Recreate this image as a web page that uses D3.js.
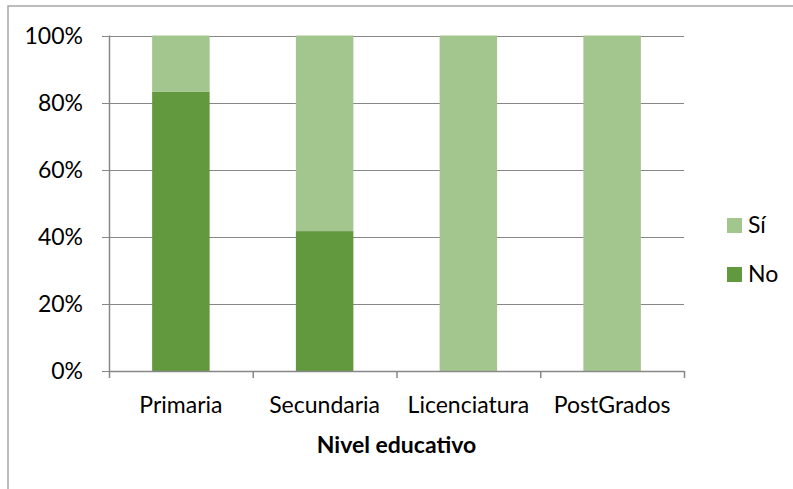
<!DOCTYPE html>
<html>
<head>
<meta charset="utf-8">
<script src="https://cdn.jsdelivr.net/npm/d3@7"></script>
<style>
  body { margin: 0; background: #fff; }
  text { font-family: Lato, "Noto Sans", sans-serif; fill: #000; }
</style>
</head>
<body>
<svg id="chart" width="793" height="489"></svg>
<script>
// values (percent of each group)
var categories = ["Primaria", "Secundaria", "Licenciatura", "PostGrados"];
var noValues = [83.3, 41.7, 0, 0];
var siValues = [16.7, 58.3, 100, 100];
var yTicks = [0, 20, 40, 60, 80, 100];
var seriesNames = ["No", "Sí"];
var seriesColors = {"No": "#62993e", "Sí": "#a3c68f"};

var svg = d3.select("#chart");

// outer chart border
svg.append("rect")
    .attr("x", 8).attr("y", 6)
    .attr("width", 800).attr("height", 500)
    .style("fill", "none")
    .style("stroke", "#a6a6a6")
    .style("stroke-width", 1.5);

var plotLeft = 109, plotRight = 684, plotTop = 35.5, plotBottom = 371;

var x = d3.scaleBand().domain(categories).range([plotLeft, plotRight]).paddingInner(0.6).paddingOuter(0.3);
var xBand = d3.scaleBand().domain(categories).range([plotLeft, plotRight]);
var y = d3.scaleLinear().domain([0, 100]).range([plotBottom, plotTop]);

var rows = categories.map(function (c, i) {
    return {cat: c, "No": noValues[i], "Sí": siValues[i]};
});
var stacked = d3.stack().keys(seriesNames)(rows);

// gridlines with outward ticks
svg.append("g").selectAll("line")
    .data(yTicks)
    .enter().append("line")
    .attr("x1", plotLeft - 7).attr("x2", plotRight)
    .attr("y1", function (d) {return Math.round(y(d)) + 0.5;})
    .attr("y2", function (d) {return Math.round(y(d)) + 0.5;})
    .style("stroke", "#878787")
    .style("stroke-width", 1);

svg.append("g").selectAll("text")
    .data(yTicks)
    .enter().append("text")
    .attr("x", 83)
    .attr("y", function (d) {return y(d);})
    .attr("dy", "0.36em")
    .attr("text-anchor", "end")
    .style("font-size", "23px")
    .text(function (d) {return d + "%";});

// bars
svg.append("g").selectAll("g")
    .data(stacked)
    .enter().append("g")
    .style("fill", function (d) {return seriesColors[d.key];})
    .selectAll("rect")
    .data(function (d) {return d;})
    .enter().append("rect")
    .attr("x", function (d) {return x(d.data.cat);})
    .attr("width", x.bandwidth())
    .attr("y", function (d) {return y(d[1]);})
    .attr("height", function (d) {return y(d[0]) - y(d[1]);});

// axes
svg.append("line")
    .attr("x1", plotLeft + 0.5).attr("x2", plotLeft + 0.5)
    .attr("y1", plotTop).attr("y2", plotBottom)
    .style("stroke", "#878787").style("stroke-width", 1.5);

var xTicks = categories.map(function (c) {return xBand(c);}).concat([plotRight]);
svg.append("line")
    .attr("x1", plotLeft).attr("x2", plotRight)
    .attr("y1", plotBottom + 0.5).attr("y2", plotBottom + 0.5)
    .style("stroke", "#878787").style("stroke-width", 1.5);
svg.append("g").selectAll("line")
    .data(xTicks)
    .enter().append("line")
    .attr("x1", function (d) {return d + 0.5;})
    .attr("x2", function (d) {return d + 0.5;})
    .attr("y1", plotBottom).attr("y2", plotBottom + 7)
    .style("stroke", "#878787").style("stroke-width", 1.5);

svg.append("g").selectAll("text")
    .data(categories)
    .enter().append("text")
    .attr("x", function (d) {return xBand(d) + xBand.bandwidth() / 2;})
    .attr("y", 413)
    .attr("text-anchor", "middle")
    .style("font-size", "23px")
    .text(function (d) {return d;});

svg.append("text")
    .attr("x", (plotLeft + plotRight) / 2)
    .attr("y", 453)
    .attr("text-anchor", "middle")
    .style("font-size", "23px")
    .style("font-weight", "bold")
    .text("Nivel educativo");

// legend, Sí on top
var legend = svg.append("g").selectAll("g")
    .data(["Sí", "No"])
    .enter().append("g")
    .attr("transform", function (d, i) {return "translate(727," + (218 + i * 49) + ")";});
legend.append("rect")
    .attr("width", 15).attr("height", 15)
    .style("fill", function (d) {return seriesColors[d];});
legend.append("text")
    .attr("x", 21).attr("y", 15)
    .style("font-size", "23px")
    .text(function (d) {return d;});
</script>
</body>
</html>
